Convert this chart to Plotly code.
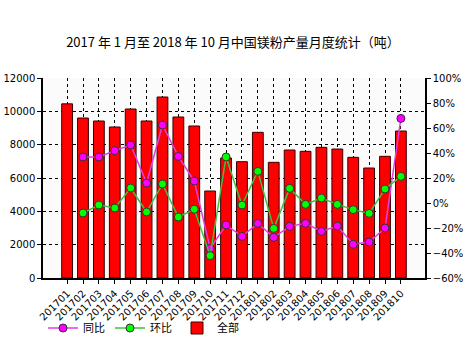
import plotly.graph_objects as go

months = ["201701","201702","201703","201704","201705","201706","201707","201708","201709","201710","201711","201712",
          "201801","201802","201803","201804","201805","201806","201807","201808","201809","201810"]
total = [10450, 9600, 9420, 9060, 10140, 9420, 10860, 9660, 9120, 5220, 7200, 6980,
         8740, 6940, 7680, 7600, 7840, 7740, 7240, 6600, 7300, 8820]
yoy = [None, 36.8, 36.8, 41.9, 46.4, 16.0, 62.4, 37.3, 17.6, -36.3, -17.6, -26.7,
       -16.3, -27.5, -18.7, -16.3, -22.7, -18.4, -33.0, -31.2, -20.0, 67.7]
mom = [None, -8.0, -1.6, -4.0, 12.0, -7.2, 15.2, -11.2, -5.0, -42.1, 36.8, -1.6,
       25.3, -20.3, 11.7, -1.1, 4.0, -1.1, -5.3, -8.3, 11.2, 21.3]

fig = go.Figure()
fig.add_trace(go.Bar(x=months, y=total, name="全部", width=0.68,
                     marker=dict(color="#FF0000", line=dict(color="#3a0000", width=1)),
                     ))
fig.add_trace(go.Scatter(x=months, y=yoy, name="同比", yaxis="y2", mode="lines+markers",
                         line=dict(color="#E040E0", width=1.5),
                         marker=dict(color="#FF00FF", size=8, line=dict(color="#333333", width=1))))
fig.add_trace(go.Scatter(x=months, y=mom, name="环比", yaxis="y2", mode="lines+markers",
                         line=dict(color="#40C040", width=1.5),
                         marker=dict(color="#00FF00", size=8, line=dict(color="#333333", width=1))))

axis_font = dict(family="DejaVu Sans", size=10, color="#000000")
fig.update_layout(
    width=466, height=340,
    margin=dict(l=43, r=41, t=78, b=62, autoexpand=False),
    paper_bgcolor="#ffffff", plot_bgcolor="#fbfbfb",
    title=dict(text="2017 年 1 月至 2018 年 10 月中国镁粉产量月度统计（吨）",
               x=0.5, xanchor="center", y=0.875, yanchor="middle",
               font=dict(family="Noto Sans CJK SC", size=13, color="#000000")),
    xaxis=dict(type="category", tickangle=-45, tickfont=axis_font, automargin=False,
               showgrid=True, gridcolor="#000000", griddash="dot", gridwidth=1,
               showline=True, linecolor="#000000", linewidth=1.5,
               ticks="outside", ticklen=4, tickcolor="#000000"),
    yaxis=dict(range=[0, 12000], dtick=2000, tickformat="d", tickfont=axis_font, automargin=False,
               showgrid=True, gridcolor="#000000", griddash="dot", gridwidth=1,
               showline=True, linecolor="#000000", linewidth=1.5,
               ticks="outside", ticklen=4, tickcolor="#000000", zeroline=False),
    yaxis2=dict(range=[-60, 100], dtick=20, ticksuffix="%", overlaying="y", side="right",
                tickfont=axis_font, showgrid=False, zeroline=False, automargin=False,
                showline=True, linecolor="#000000", linewidth=1.5,
                ticks="outside", ticklen=4, tickcolor="#000000"),
    legend=dict(orientation="h", x=0.0, xanchor="left", y=-0.25, yanchor="middle",
                traceorder="normal", font=dict(family="Noto Sans CJK SC", size=11, color="#000000"),
                bgcolor="rgba(0,0,0,0)", itemwidth=30),
    bargap=0.32,
    showlegend=True,
)
fig.data[0].legendrank = 3
fig.data[1].legendrank = 1
fig.data[2].legendrank = 2

fig.write_html("out.html")
